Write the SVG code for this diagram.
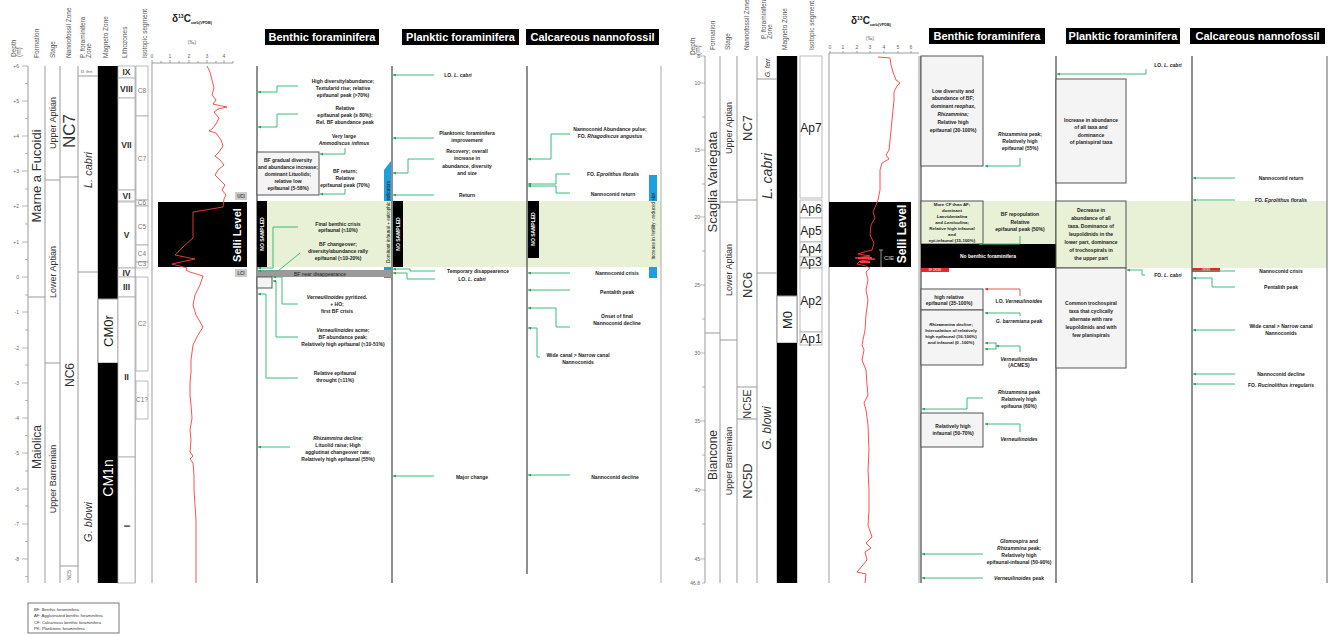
<svg xmlns="http://www.w3.org/2000/svg" width="1328" height="635" viewBox="0 0 1328 635">
<style>
text{font-family:"Liberation Sans",Arial,sans-serif}
.c{stroke:#9a9a9a;stroke-width:1;fill:none}
.cl{stroke:#444;stroke-width:1.2;fill:none}
.t5{font-size:5px;fill:#666}
.h{font-size:6.5px;fill:#555}
.a{font-size:5px;font-weight:bold;fill:#222;text-anchor:middle}
.a4{font-size:4.4px;font-weight:bold;fill:#222;text-anchor:middle}
.g{stroke:#3dbb7a;stroke-width:1;fill:none;marker-end:url(#ar)}
.rd{stroke:#f05050;stroke-width:1;fill:none;marker-end:url(#ar2)}
.bx{fill:#f4f4f4;stroke:#555;stroke-width:1}
.gb{fill:#e8f1d6;stroke:#555;stroke-width:1}
.band{fill:#e8f1d6}
.ttl{font-size:11px;font-weight:bold;fill:#fff;text-anchor:middle}
.seg{fill:#fff;stroke:#aaa;stroke-width:0.8}
.red{stroke:#ff3b3b;stroke-width:0.9;fill:none}
.i{font-style:italic}
.ns{font-size:5px;font-weight:bold;fill:#fff;text-anchor:middle}
.blue{fill:#1ea0df}
.lz{font-size:8.5px;font-weight:bold;fill:#333;text-anchor:middle}
.iso{font-size:6.5px;fill:#777;text-anchor:middle}
.ap{font-size:12px;fill:#222;text-anchor:middle}
.mid{text-anchor:middle}
.wt{fill:#fff}
</style>
<defs>
<marker id="ar" markerUnits="userSpaceOnUse" markerWidth="3" markerHeight="3" refX="3" refY="1.5" orient="auto"><path d="M0,0L3,1.5L0,3z" fill="#2e9e60"/></marker>
<marker id="ar2" markerUnits="userSpaceOnUse" markerWidth="3" markerHeight="3" refX="3" refY="1.5" orient="auto"><path d="M0,0L3,1.5L0,3z" fill="#e03030"/></marker>
</defs>
<rect width="1328" height="635" fill="#fff"/>

<!-- ================= LEFT PANEL ================= -->
<g id="left-bands">
<polygon class="blue" points="384,170 391,161 391,278 384,278"/>
<rect class="blue" x="649" y="175" width="8" height="103"/>
<rect class="band" x="257" y="201" width="404" height="66"/>
</g>

<g id="left-headers">
<text class="h" transform="translate(16,57) rotate(-90)">Depth</text>
<text class="h" font-size="4.5" transform="translate(21,57) rotate(-90)">(m)</text>
<text class="h" transform="translate(39,58) rotate(-90)">Formation</text>
<text class="h" transform="translate(55,58) rotate(-90)">Stage</text>
<text class="h" transform="translate(71,58) rotate(-90)">Nannofossil Zone</text>
<text class="h" transform="translate(85,58) rotate(-90)">P. foraminifera</text>
<text class="h" transform="translate(91,58) rotate(-90)">Zone</text>
<text class="h" transform="translate(108,58) rotate(-90)">Magneto Zone</text>
<text class="h" transform="translate(127,58) rotate(-90)">Lithozones</text>
<text class="h" transform="translate(147,58) rotate(-90)">Isotopic segment</text>
<text x="172" y="22" font-size="10" font-weight="bold" fill="#222">δ<tspan font-size="5" dy="-4">13</tspan><tspan dy="4">C</tspan><tspan font-size="3.8" dy="1.5">carb(VPDB)</tspan></text>
<text class="t5 mid" x="192" y="44">(‰)</text>
</g>

<g id="left-titles">
<rect x="265" y="29" width="114" height="16" fill="#000"/>
<text class="ttl" x="322" y="41">Benthic foraminifera</text>
<rect x="402" y="29" width="117" height="16" fill="#000"/>
<text class="ttl" x="460.5" y="41">Planktic foraminifera</text>
<rect x="526" y="29" width="133" height="16" fill="#000"/>
<text class="ttl" x="592.5" y="41">Calcareous nannofossil</text>
</g>

<g id="left-depth">
<path class="c" d="M28,66V583 M45,66V583 M60,66V583 M78,66V583 M98,66V583 M118,66V583 M135,66V583 M152,63V583"/>
<path stroke="#999" stroke-width="0.7" d="M22,66H28M22,101H28M22,136H28M22,171H28M22,206H28M22,242H28M22,277H28M22,312H28M22,348H28M22,383H28M22,418H28M22,453H28M22,489H28M22,524H28M22,559H28M25,83.5H28M25,118.5H28M25,153.5H28M25,189H28M25,224H28M25,259.5H28M25,295H28M25,330H28M25,365H28M25,400.5H28M25,435.5H28M25,471H28M25,506H28M25,541.5H28M25,576.5H28"/>
<g class="t5" text-anchor="end">
<text x="19" y="68">+6</text><text x="19" y="103">+5</text><text x="19" y="138">+4</text><text x="19" y="173">+3</text><text x="19" y="208">+2</text><text x="19" y="244">+1</text><text x="19" y="279">0</text><text x="19" y="314">-1</text><text x="19" y="350">-2</text><text x="19" y="385">-3</text><text x="19" y="420">-4</text><text x="19" y="455">-5</text><text x="19" y="491">-6</text><text x="19" y="526">-7</text><text x="19" y="561">-8</text>
</g>
</g>

<g id="left-formation">
<path class="c" d="M28,297H45"/>
<text font-size="13" fill="#333" class="mid" transform="translate(41,176) rotate(-90)">Marne a Fucoidi</text>
<text font-size="12" fill="#333" class="mid" transform="translate(41,447) rotate(-90)">Maiolica</text>
</g>
<g id="left-stage">
<path class="c" d="M45,180H60M45,363H60"/>
<text font-size="9" fill="#333" class="mid" transform="translate(56,123) rotate(-90)">Upper Aptian</text>
<text font-size="9" fill="#333" class="mid" transform="translate(56,272) rotate(-90)">Lower Aptian</text>
<text font-size="9" fill="#333" class="mid" transform="translate(56,479) rotate(-90)">Upper Barremian</text>
</g>
<g id="left-nanno-zone">
<path class="c" d="M60,177H78M60,566H78"/>
<text font-size="17" fill="#333" class="mid" transform="translate(75,131) rotate(-90)">NC7</text>
<text font-size="12" fill="#333" class="mid" transform="translate(73.5,375) rotate(-90)">NC6</text>
<text font-size="5" fill="#555" class="mid" transform="translate(71,575) rotate(-90)">NC5</text>
</g>
<g id="left-pforam-zone">
<path class="c" d="M78,76H98M78,272H98"/>
<text font-size="4" fill="#555" class="mid i" x="87" y="73">G. ferr.</text>
<text font-size="11" fill="#333" class="mid i" transform="translate(92,170) rotate(-90)">L. cabri</text>
<text font-size="11" fill="#333" class="mid i" transform="translate(92,522) rotate(-90)">G. blowi</text>
</g>
<g id="left-magneto">
<rect x="98" y="66" width="20" height="233" fill="#000"/>
<rect x="98" y="299" width="20" height="64" fill="#fff" stroke="#999"/>
<rect x="98" y="363" width="20" height="220" fill="#000"/>
<text font-size="13" fill="#222" class="mid" transform="translate(112.5,331) rotate(-90)">CM0r</text>
<text font-size="14" fill="#fff" class="mid" transform="translate(113,478) rotate(-90)">CM1n</text>
</g>
<g id="left-lithozones">
<rect class="seg" x="118" y="66" width="17" height="12"/>
<rect class="seg" x="118" y="78" width="17" height="20"/>
<rect class="seg" x="118" y="98" width="17" height="92"/>
<rect class="seg" x="118" y="190" width="17" height="11"/>
<rect class="seg" x="118" y="202" width="17" height="66"/>
<rect class="seg" x="118" y="268" width="17" height="9"/>
<rect class="seg" x="118" y="277" width="17" height="20"/>
<rect class="seg" x="118" y="297" width="17" height="160"/>
<rect class="seg" x="118" y="457" width="17" height="126"/>
<text class="lz" x="126.5" y="75">IX</text>
<text class="lz" x="126.5" y="92">VIII</text>
<text class="lz" x="126.5" y="148">VII</text>
<text class="lz" font-size="7.5" x="126.5" y="198.5">VI</text>
<text class="lz" x="126.5" y="238">V</text>
<text class="lz" font-size="7.5" x="126.5" y="275.5">IV</text>
<text class="lz" x="126.5" y="290">III</text>
<text class="lz" x="126.5" y="380">II</text>
<text class="lz" transform="translate(129.5,526) rotate(-90)">I</text>
</g>
<g id="left-isotopic">
<rect class="seg" x="136" y="66" width="12" height="50"/>
<rect class="seg" x="136" y="116" width="12" height="84"/>
<rect class="seg" x="136" y="200" width="12" height="6"/>
<rect class="seg" x="136" y="206" width="12" height="39"/>
<rect class="seg" x="136" y="245" width="12" height="17"/>
<rect class="seg" x="136" y="262" width="12" height="6"/>
<rect class="seg" x="136" y="277" width="12" height="94"/>
<rect class="seg" x="136" y="381" width="12" height="38"/>
<text class="iso" x="142" y="93">C8</text>
<text class="iso" x="142" y="161">C7</text>
<text class="iso" font-size="4.5" x="142" y="205">C6</text>
<text class="iso" x="142" y="229">C5</text>
<text class="iso" x="142" y="256">C4</text>
<text class="iso" font-size="4" x="142" y="266">C3</text>
<text class="iso" x="142" y="326">C2</text>
<text class="iso" font-size="4.5" x="142" y="402">C1?</text>
</g>
<g id="left-d13c">
<path stroke="#888" stroke-width="0.8" d="M152,63H233M152,63v-3M161,63v-2M170,63v-3M179,63v-2M189,63v-3M198,63v-2M207,63v-3M216,63v-2M224,63v-3M233,63v-2"/>
<g class="t5" text-anchor="middle"><text x="152" y="58">0</text><text x="170" y="58">1</text><text x="189" y="58">2</text><text x="207" y="58">3</text><text x="224" y="58">4</text></g>
<rect x="158" y="202" width="89" height="65" fill="#000"/>
<text font-size="11" font-weight="bold" fill="#fff" class="mid" transform="translate(241,235) rotate(-90)">Selli Level</text>
<rect x="235" y="192" width="12" height="8" fill="#ccc"/>
<text x="241" y="198" font-size="4.5" font-weight="bold" fill="#444" class="mid">UCI</text>
<rect x="235" y="269" width="12" height="8" fill="#ccc"/>
<text x="241" y="275" font-size="4.5" font-weight="bold" fill="#444" class="mid">LCI</text>
<polyline class="red" points="207,66 210,72 212,80 214,88 212,95 216,100 213,104 222,106 227,107 218,109 214,112 219,118 216,124 212,129 209,131 216,133 221,140 223,146 219,152 215,156 220,160 224,165 218,170 215,175 220,180 225,185 222,190 226,195 224,199 223,207 193,212 193,238 184,246 175,255 195,259 181,262 172,264 187,268 186,270 190,272 203,276 200,285 195,295 193,305 196,315 203,327 198,335 193,345 191,360 191,372 190,383 190,395 191,405 192,418 190,430 191,440 190,452 193,456 190,459 193,463 194,475 194,490 195,505 196,520 196,540 196,560 196,583"/>
</g>

<g id="left-columns">
<path class="cl" d="M257,66V583M392,66V583M527,66V574"/>
<path stroke="#aaa" stroke-width="1" d="M661,66V583"/>
</g>

<g id="left-benthic">
<rect x="257" y="201" width="10" height="66" fill="#000"/>
<text class="ns" transform="translate(264,234) rotate(-90)">NO SAMPLED</text>
<text class="a" x="343" y="83">High diversity/abundance;</text>
<text class="a" x="343" y="90">Textularid rise; relative</text>
<text class="a" x="343" y="97">epifaunal peak (&gt;70%)</text>
<text class="a" x="345" y="110">Relative</text>
<text class="a" x="345" y="117">epifaunal peak (≥ 80%);</text>
<text class="a" x="345" y="124">Rel. BF abundance peak</text>
<text class="a" x="344" y="138">Very large</text>
<text class="a i" x="344" y="145">Ammodiscus infimus</text>
<rect class="bx" x="257" y="152" width="62" height="43"/>
<text class="a" x="288" y="162">BF gradual diversity</text>
<text class="a" x="288" y="169">and abundance increase;</text>
<text class="a" x="288" y="176">dominant Lituolids;</text>
<text class="a" x="288" y="183">relative low</text>
<text class="a" x="288" y="190">epifaunal (5-58%)</text>
<text class="a" x="345" y="173">BF return;</text>
<text class="a" x="345" y="180">Relative</text>
<text class="a" x="345" y="187">epifaunal peak (70%)</text>
<text class="a" x="338" y="226">Final benthic crisis</text>
<text class="a" x="338" y="232">epifaunal (≈10%)</text>
<text class="a" x="338" y="246">BF changeover;</text>
<text class="a" x="338" y="253">diversity/abundance rally</text>
<text class="a" x="338" y="260">epifaunal (≈10-20%)</text>
<rect x="257" y="270" width="134" height="7" fill="#9a9a9a"/>
<text x="320" y="275.5" font-size="5" fill="#222" class="mid">BF near disappearance</text>
<rect class="bx" x="257" y="277" width="15" height="11"/>
<text class="a" x="337" y="299"><tspan class="i">Verneuilinoides</tspan> pyritized.</text>
<text class="a" x="337" y="306">+ HO;</text>
<text class="a" x="337" y="313">first BF crisis</text>
<text class="a" x="343" y="332"><tspan class="i">Verneuilinoides</tspan> acme;</text>
<text class="a" x="343" y="339">BF abundance peak;</text>
<text class="a" x="343" y="346">Relatively high epifaunal (≈10-51%)</text>
<text class="a" x="335" y="375">Relative epifaunal</text>
<text class="a" x="335" y="382">throught (≈11%)</text>
<text class="a i" x="338" y="440">Rhizammina decline;</text>
<text class="a" x="338" y="447">Lituolid raise; High</text>
<text class="a" x="338" y="454">agglutinat changeover rate;</text>
<text class="a" x="338" y="461">Relatively high epifaunal (55%)</text>
</g>

<g id="left-planktic">
<rect x="393" y="201" width="10" height="66" fill="#000"/>
<text class="ns" transform="translate(400,234) rotate(-90)">NO SAMPLED</text>
<text x="0" y="0" font-size="4.6" fill="#111" class="mid" transform="translate(389.5,222) rotate(-90)">Dominant infaunal + eutrophic indicators</text>
<text class="a" x="458" y="77">LO. <tspan class="i">L. cabri</tspan></text>
<text class="a" x="467" y="135">Planktonic foraminifera</text>
<text class="a" x="467" y="142">improvement</text>
<text class="a" x="467" y="153">Recovery; overall</text>
<text class="a" x="467" y="160">increase in</text>
<text class="a" x="467" y="168">abundance, diversity</text>
<text class="a" x="467" y="175">and size</text>
<text class="a" x="467" y="197">Return</text>
<text class="a" x="478" y="273">Temporary disappearence</text>
<text class="a" x="472" y="281">LO. <tspan class="i">L. cabri</tspan></text>
<text class="a" x="472" y="479">Major change</text>
</g>

<g id="left-nanno">
<rect x="528" y="201" width="11" height="57" fill="#000"/>
<text class="ns" transform="translate(535,229) rotate(-90)">NO SAMPLED</text>
<text x="0" y="0" font-size="4.6" fill="#111" class="mid" transform="translate(654.5,226) rotate(-90)">Increase in fertility - reduced size</text>
<text class="a" x="610" y="131">Nannoconid Abundance pulse;</text>
<text class="a" x="610" y="138">FO. <tspan class="i">Rhagodiscus  angustus</tspan></text>
<text class="a" x="613" y="176">FO. <tspan class="i">Eprolithus floralis</tspan></text>
<text class="a" x="613" y="196">Nannoconid return</text>
<text class="a" x="617" y="275">Nannoconid crisis</text>
<text class="a" x="617" y="294">Pentalith peak</text>
<text class="a" x="617" y="318">Onset of final</text>
<text class="a" x="617" y="325">Nannoconid decline</text>
<text class="a" x="578" y="357">Wide canal &gt; Narrow canal</text>
<text class="a" x="578" y="364">Nannoconids</text>
<text class="a" x="615" y="479">Nannoconid decline</text>
</g>

<g id="left-legend">
<rect x="28" y="603" width="91" height="30" fill="#fff" stroke="#555" stroke-width="0.8"/>
<g font-size="4.2" fill="#333">
<text x="34" y="611">BF: Benthic foraminifera</text>
<text x="34" y="617">AF: Agglutinated benthic foraminifera</text>
<text x="34" y="623.5">CF: Calcareous benthic foraminifera</text>
<text x="34" y="629.5">PK: Planktonic foraminifera</text>
</g>
</g>

<!-- ================= RIGHT PANEL ================= -->
<g id="right-bands">
<rect class="band" x="921" y="201" width="406" height="67"/>
</g>

<g id="right-headers">
<text class="h" transform="translate(695,55) rotate(-90)">Depth</text>
<text class="h" font-size="4.5" transform="translate(700,55) rotate(-90)">(m)</text>
<text class="h" transform="translate(715,50) rotate(-90)">Formation</text>
<text class="h" transform="translate(730,50) rotate(-90)">Stage</text>
<text class="h" transform="translate(749,50) rotate(-90)">Nannofossil Zone</text>
<text class="h" transform="translate(766,39) rotate(-90)">P. foraminifera</text>
<text class="h" transform="translate(772,39) rotate(-90)">Zone</text>
<text class="h" transform="translate(787,50) rotate(-90)">Magneto Zone</text>
<text class="h" transform="translate(814,50) rotate(-90)">Isotopic segment</text>
<text x="851" y="24" font-size="10" font-weight="bold" fill="#222">δ<tspan font-size="5" dy="-4">13</tspan><tspan dy="4">C</tspan><tspan font-size="3.8" dy="1.5">carb(VPDB)</tspan></text>
<text class="t5 mid" x="870" y="40">(‰)</text>
</g>

<g id="right-titles">
<rect x="929" y="28" width="116" height="16" fill="#000"/>
<text class="ttl" x="987" y="40">Benthic foraminifera</text>
<rect x="1066" y="28" width="114" height="16" fill="#000"/>
<text class="ttl" x="1123" y="40">Planktic foraminifera</text>
<rect x="1190" y="28" width="135" height="16" fill="#000"/>
<text class="ttl" x="1257.5" y="40">Calcareous nannofossil</text>
</g>

<g id="right-depth">
<path class="c" d="M705,56V583M720,56V583M737,56V583M757,56V583M777,56V583M797,56V583M829,53V583M919,56V583"/>
<path stroke="#999" stroke-width="0.7" d="M700,56H705M700,83H705M700,150H705M700,217H705M700,285H705M700,353H705M700,421H705M700,490H705M700,559H705M702,117H705M702,184H705M702,251H705M702,319H705M702,387H705M702,455H705M702,524H705M702,583H705"/>
<g class="t5" text-anchor="end" font-size="4.5">
<text x="700" y="58">8</text><text x="700" y="85">10</text><text x="700" y="152">15</text><text x="700" y="219">20</text><text x="700" y="287">25</text><text x="700" y="355">30</text><text x="700" y="423">35</text><text x="700" y="492">40</text><text x="700" y="561">45</text><text x="700" y="585">46.8</text>
</g>
</g>

<g id="right-formation">
<path class="c" d="M705,333H720"/>
<text font-size="13" fill="#333" class="mid" transform="translate(717,182) rotate(-90)">Scaglia Variegata</text>
<text font-size="12" fill="#333" class="mid" transform="translate(716.5,455) rotate(-90)">Biancone</text>
</g>
<g id="right-stage">
<path class="c" d="M720,202H737M720,340H737"/>
<text font-size="9" fill="#333" class="mid" transform="translate(731.5,128) rotate(-90)">Upper Aptian</text>
<text font-size="9" fill="#333" class="mid" transform="translate(731.5,270) rotate(-90)">Lower Aptian</text>
<text font-size="9" fill="#333" class="mid" transform="translate(731.5,461) rotate(-90)">Upper Barremian</text>
</g>
<g id="right-nanno-zone">
<path class="c" d="M737,200H757M737,387H757M737,419H757"/>
<text font-size="13" fill="#333" class="mid" transform="translate(751.5,128) rotate(-90)">NC7</text>
<text font-size="13" fill="#333" class="mid" transform="translate(751.5,285) rotate(-90)">NC6</text>
<text font-size="11" fill="#333" class="mid" transform="translate(751,404) rotate(-90)">NC5E</text>
<text font-size="13" fill="#333" class="mid" transform="translate(751.5,481) rotate(-90)">NC5D</text>
</g>
<g id="right-pforam-zone">
<path class="c" d="M757,79H777M757,273H777"/>
<text font-size="6.5" fill="#333" class="mid i" transform="translate(769.5,67) rotate(-90)">G. ferr.</text>
<text font-size="14" fill="#333" class="mid i" transform="translate(772,176) rotate(-90)">L. cabri</text>
<text font-size="12" fill="#333" class="mid i" transform="translate(771,428) rotate(-90)">G. blowi</text>
</g>
<g id="right-magneto">
<rect x="777" y="56" width="20" height="240" fill="#000"/>
<rect x="777" y="296" width="20" height="47" fill="#fff" stroke="#999"/>
<rect x="777" y="343" width="20" height="240" fill="#000"/>
<text font-size="13" fill="#222" class="mid" transform="translate(791.5,320) rotate(-90)">M0</text>
</g>
<g id="right-isotopic">
<rect class="seg" x="800" y="56" width="22" height="142"/>
<rect class="seg" x="800" y="200" width="22" height="18"/>
<rect class="seg" x="800" y="218" width="22" height="24"/>
<rect class="seg" x="800" y="242" width="22" height="15"/>
<rect class="seg" x="800" y="257" width="22" height="11"/>
<rect class="seg" x="800" y="268" width="22" height="64"/>
<rect class="seg" x="800" y="332" width="22" height="13"/>
<text class="ap" x="811" y="132">Ap7</text>
<text class="ap" x="811" y="213">Ap6</text>
<text class="ap" x="811" y="235">Ap5</text>
<text class="ap" x="811" y="253">Ap4</text>
<text class="ap" x="811" y="266">Ap3</text>
<text class="ap" x="811" y="305">Ap2</text>
<text class="ap" x="811" y="343">Ap1</text>
</g>
<g id="right-d13c">
<path stroke="#888" stroke-width="0.8" d="M829,53H919M830,53v-2M843,53v-2M857,53v-2M870,53v-2M884,53v-2M898,53v-2M911,53v-2"/>
<g class="t5" text-anchor="middle" font-size="4.5"><text x="830" y="49">0</text><text x="843" y="49">1</text><text x="857" y="49">2</text><text x="870" y="49">3</text><text x="884" y="49">4</text><text x="898" y="49">5</text><text x="911" y="49">6</text></g>
<rect x="829" y="202" width="82" height="65" fill="#000"/>
<text font-size="12" font-weight="bold" fill="#fff" class="mid" transform="translate(906,234) rotate(-90)">Selli Level</text>
<path stroke="#bbb" stroke-width="0.8" d="M881,250V267M879,250H883"/>
<text x="884" y="260" font-size="6" fill="#ddd">CIE</text>
<polyline class="red" points="878,57 890,58 891,65 893,72 896,80 900,83 897,86 894,92 894,100 893,110 892,120 891,130 890,140 889,150 886,155 889,159 882,163 880,170 880,180 880,190 878,200 876,205 873,212 875,218 871,225 870,235 874,243 872,250 864,252 858,254 870,256 855,258 875,259 860,261 857,264 866,266 870,268 866,272 868,280 866,290 868,300 866,315 865,330 862,345 864,350 862,360 866,370 867,385 868,395 864,403 866,410 868,425 869,450 868,470 869,490 869,510 868,525 872,537 866,543 871,548 865,552 867,560 857,572 866,574 865,583"/>
<path stroke="#ff3b3b" stroke-width="2" fill="none" d="M858,258H872M860,262H870"/>
</g>

<g id="right-columns">
<path class="cl" d="M921,56V583M1056,56V583M1192,56V583"/>
<path stroke="#777" stroke-width="1.2" d="M1327,56V583"/>
</g>

<g id="right-benthic">
<rect class="bx" x="921" y="56" width="62" height="110"/>
<text class="a" x="953" y="93">Low diversity and</text>
<text class="a" x="953" y="100">abundance of BF;</text>
<text class="a" x="953" y="108">dominant <tspan class="i">reophax</tspan>,</text>
<text class="a i" x="953" y="116">Rhizammina;</text>
<text class="a" x="953" y="124">Relative high</text>
<text class="a" x="953" y="132">epifaunal (30-100%)</text>
<text class="a" x="1020" y="136"><tspan class="i">Rhizammina</tspan> peak;</text>
<text class="a" x="1020" y="143">Relatively high</text>
<text class="a" x="1020" y="150">epifaunal (55%)</text>
<rect class="gb" x="921" y="201" width="62" height="43"/>
<text class="a4" x="952" y="205.5">More CF than AF;</text>
<text class="a4" x="952" y="211.5">dominant</text>
<text class="a4 i" x="952" y="217.5">Laevidentalina</text>
<text class="a4" x="952" y="223.5">and <tspan class="i">Lenticulina</tspan>;</text>
<text class="a4" x="952" y="229.5">Relative high infaunal</text>
<text class="a4" x="952" y="235.5">and</text>
<text class="a4" x="952" y="241.5">epi-infaunal (15-100%)</text>
<text class="a" x="1020" y="216">BF repopulation</text>
<text class="a" x="1020" y="224">Relative</text>
<text class="a" x="1020" y="231">epifaunal peak (50%)</text>
<rect x="921" y="244" width="135" height="24" fill="#000"/>
<text class="a wt" x="988" y="258">No benthic foraminifera</text>
<rect x="921" y="268" width="28" height="4" fill="#e8262a"/>
<text x="935" y="271.2" font-size="2.6" fill="#fff" class="mid">BF CRISIS</text>
<rect class="bx" x="921" y="289" width="62" height="21"/>
<text class="a" x="949" y="299">high relative</text>
<text class="a" x="949" y="305">epifaunal (35-100%)</text>
<text class="a" x="1019" y="303">LO. <tspan class="i">Verneuilinoides</tspan></text>
<rect class="bx" x="921" y="310" width="62" height="55"/>
<text class="a4" x="951" y="326"><tspan class="i">Rhizammina</tspan> decline;</text>
<text class="a4" x="951" y="332">Intercalation of relatively</text>
<text class="a4" x="951" y="338">high epifaunal (16-100%)</text>
<text class="a4" x="951" y="344">and infaunal (0 -100%)</text>
<text class="a" x="1019" y="323"><tspan class="i">G. barremiana</tspan> peak</text>
<text class="a i" x="1019" y="361">Verneuilinoides</text>
<text class="a" x="1019" y="367">(ACMES)</text>
<text class="a" x="1019" y="394"><tspan class="i">Rhizammina</tspan> peak</text>
<text class="a" x="1019" y="401">Relatively high</text>
<text class="a" x="1019" y="408">epifauna (60%)</text>
<rect class="bx" x="921" y="413" width="62" height="34"/>
<text class="a" x="953" y="428">Relatively high</text>
<text class="a" x="953" y="435">infaunal (50-70%)</text>
<text class="a i" x="1019" y="441">Verneuilinoides</text>
<text class="a" x="1019" y="543"><tspan class="i">Glomospira</tspan> and</text>
<text class="a" x="1019" y="550"><tspan class="i">Rhizammina</tspan> peak;</text>
<text class="a" x="1019" y="557">Relatively high</text>
<text class="a" x="1019" y="564">epifaunal-infaunal (50-90%)</text>
<text class="a" x="1019" y="580"><tspan class="i">Verneuilinoides</tspan> peak</text>
</g>

<g id="right-planktic">
<rect class="bx" x="1056" y="79" width="70" height="104"/>
<text class="a" x="1091" y="122">Increase in abundance</text>
<text class="a" x="1091" y="129">of all taxa and</text>
<text class="a" x="1091" y="137">dominance</text>
<text class="a" x="1091" y="144">of planispiral taxa</text>
<rect class="gb" x="1056" y="201" width="70" height="67"/>
<text class="a" x="1091" y="212">Decrease in</text>
<text class="a" x="1091" y="220">abundance of all</text>
<text class="a" x="1091" y="228">taxa. Dominance of</text>
<text class="a" x="1091" y="236">leupoldinids in the</text>
<text class="a" x="1091" y="244">lower part, dominance</text>
<text class="a" x="1091" y="252">of trochospirals in</text>
<text class="a" x="1091" y="260">the upper part</text>
<rect class="bx" x="1056" y="268" width="70" height="100"/>
<text class="a" x="1091" y="305">Common trochospiral</text>
<text class="a" x="1091" y="313">taxa that cyclically</text>
<text class="a" x="1091" y="321">alternate with rare</text>
<text class="a" x="1091" y="329">leupoldinids and with</text>
<text class="a" x="1091" y="337">few planispirals</text>
<text class="a" x="1168" y="67">LO. <tspan class="i">L. cabri</tspan></text>
<text class="a" x="1168" y="277">FO. <tspan class="i">L. cabri</tspan></text>
</g>

<g id="right-nanno">
<rect x="1192" y="268" width="28" height="4" fill="#e8262a"/>
<text x="1206" y="271.2" font-size="2.6" fill="#fff" class="mid">CRISIS</text>
<text class="a" x="1281" y="180">Nannoconid return</text>
<text class="a" x="1281" y="202">FO. <tspan class="i">Eprolithus floralis</tspan></text>
<text class="a" x="1281" y="273">Nannoconid crisis</text>
<text class="a" x="1281" y="289">Pentalith peak</text>
<text class="a" x="1281" y="328">Wide canal &gt; Narrow canal</text>
<text class="a" x="1281" y="335">Nannoconids</text>
<text class="a" x="1281" y="376">Nannoconid decline</text>
<text class="a" x="1281" y="387">FO. <tspan class="i">Rucinolithus irregularis</tspan></text>
</g>

<g id="connectors">
<polyline class="g" points="298,86 277,86 277,92 258,92"/>
<polyline class="g" points="298,114 277,114 277,127 258,127"/>
<polyline class="g" points="345,148 345,154 320,154"/>
<polyline class="g" points="345,189 345,194 320,194"/>
<polyline class="g" points="298,227 273,227 273,268 258,268"/>
<polyline class="g" points="300,253 278,271 258,271"/>
<polyline class="g" points="298,304 282,304 282,277 273,277"/>
<polyline class="g" points="298,337 276,337 276,281 273,281"/>
<polyline class="g" points="298,378 266,378 266,294 258,294"/>
<polyline class="g" points="290,447 258,447"/>
<polyline class="g" points="434,75 393,75"/>
<polyline class="g" points="434,138 393,138"/>
<polyline class="g" points="434,159 408,159 408,173 393,173"/>
<polyline class="g" points="434,195 393,195"/>
<polyline class="g" points="435,271 410,271 410,269 393,269"/>
<polyline class="g" points="435,279 407,279 407,273 393,273"/>
<polyline class="g" points="434,476 393,476"/>
<polyline class="g" points="570,134 551,134 551,159 528,159"/>
<polyline class="g" points="570,174 556,174 556,184 528,184"/>
<polyline class="g" points="570,193 556,193 556,186 528,186"/>
<polyline class="g" points="570,273 528,273"/>
<polyline class="g" points="570,290 528,290"/>
<polyline class="g" points="570,327 556,327 556,308 528,308"/>
<polyline class="g" points="540,357 537,357 537,328 528,328"/>
<polyline class="g" points="570,475 528,475"/>
<polyline class="g" points="1020,158 1020,166 985,166"/>
<polyline class="g" points="1020,236 1020,244 979,244"/>
<polyline class="rd" points="1020,296 1020,289 985,289"/>
<polyline class="g" points="1020,316 1020,313 985,313"/>
<polyline class="g" points="1020,352 1020,346 996,346"/>
<path stroke="#3dbb7a" stroke-width="1" d="M996,342.5V349.5"/>
<polyline class="g" points="996,343 985,343"/>
<polyline class="g" points="996,349 985,349"/>
<polyline class="g" points="983,398 967,398 967,409 922,409"/>
<polyline class="g" points="1020,432 1020,424 985,424"/>
<polyline class="g" points="983,554 922,554"/>
<polyline class="g" points="983,578 922,578"/>
<polyline class="g" points="1146,69 1146,74 1057,74"/>
<polyline class="g" points="1145,275 1142,275 1142,270 1127,270"/>
<polyline class="g" points="1235,178 1193,178"/>
<polyline class="g" points="1235,200 1193,200"/>
<polyline class="g" points="1235,271 1193,271"/>
<polyline class="g" points="1235,287 1212,287 1212,278 1193,278"/>
<polyline class="g" points="1235,330 1193,330"/>
<polyline class="g" points="1235,374 1193,374"/>
<polyline class="g" points="1235,384 1193,384"/>
</g>
</svg>
